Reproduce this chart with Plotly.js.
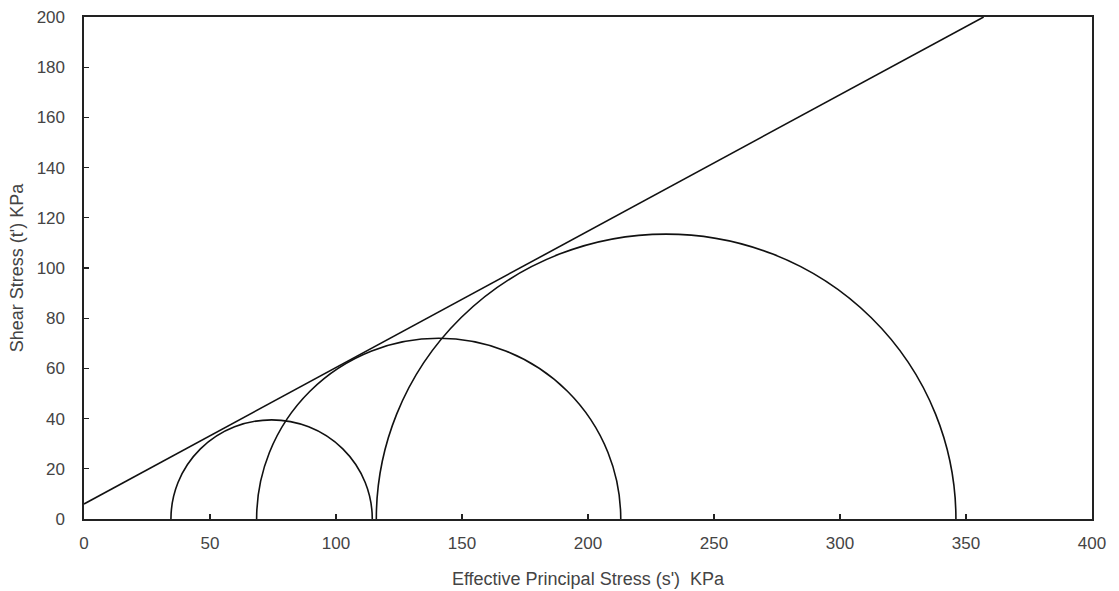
<!DOCTYPE html>
<html>
<head>
<meta charset="utf-8">
<script src="https://cdn.plot.ly/plotly-3.0.1.min.js"></script>
<style>html,body{margin:0;padding:0;background:#fff;}#chart{width:1119px;height:591px;}</style>
</head>
<body>
<div id="chart"></div>
<script>
// Mohr circles: minor (sigma3') and major (sigma1') effective principal stresses, kPa
const sigma3 = [34.5, 68.5, 116];
const sigma1 = [114.4, 213, 346];
// Peak shear stress of each circle
const tauMax = [39.5, 72, 113.5];
// Failure envelope end points
const envX = [0, 357];
const envY = [6, 200];
const xTicks = [0, 50, 100, 150, 200, 250, 300, 350, 400];
const yTicks = [0, 20, 40, 60, 80, 100, 120, 140, 160, 180, 200];

const lineStyle = {color: '#111', width: 1.6};

const shapes = sigma3.map((s3, i) => ({
  type: 'circle', xref: 'x', yref: 'y', x0: s3, x1: sigma1[i], y0: -tauMax[i], y1: tauMax[i],
  line: lineStyle, fillcolor: 'rgba(0,0,0,0)', layer: 'above'
}));

const traces = [{
  x: envX, y: envY, type: 'scatter', mode: 'lines', line: lineStyle,
  hoverinfo: 'skip', showlegend: false
}];

const FAM = 'Liberation Sans, Arial, sans-serif';
const tickFont = {family: FAM, size: 17, color: '#444'};
const titleFont = {family: FAM, size: 18, color: '#444'};

const layout = {
  width: 1119, height: 591,
  margin: {l: 84, r: 27, t: 17, b: 72},
  paper_bgcolor: '#fff', plot_bgcolor: '#fff',
  showlegend: false,
  shapes: shapes,
  xaxis: {
    range: [0, 400], tickvals: xTicks, ticktext: xTicks.map(String),
    ticks: 'inside', ticklen: 5, tickwidth: 1.3, tickcolor: '#222',
    showline: true, linecolor: '#222', linewidth: 1.6, mirror: true,
    showgrid: false, zeroline: false, tickfont: tickFont, ticklabelstandoff: 8,
    automargin: false,
    title: {text: "Effective Principal Stress (s')  KPa", font: titleFont, standoff: 20}
  },
  yaxis: {
    range: [0, 200], tickvals: yTicks, ticktext: yTicks.map(String),
    ticks: 'inside', ticklen: 5, tickwidth: 1.3, tickcolor: '#222',
    showline: true, linecolor: '#222', linewidth: 1.6, mirror: true,
    showgrid: false, zeroline: false, tickfont: tickFont, ticklabelstandoff: 14,
    automargin: false,
    title: {text: "Shear Stress (t') KPa", font: titleFont, standoff: 8}
  }
};

Plotly.newPlot('chart', traces, layout, {displayModeBar: false, staticPlot: true});
</script>
</body>
</html>
